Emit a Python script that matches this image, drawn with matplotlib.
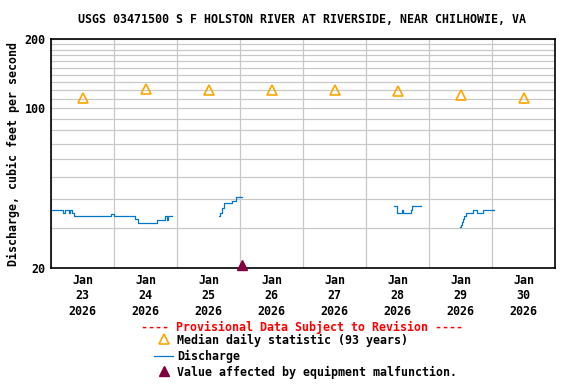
import matplotlib
matplotlib.use("Agg")
import matplotlib.pyplot as plt
import matplotlib.dates as mdates
from matplotlib.lines import Line2D
from matplotlib.ticker import FixedLocator, FixedFormatter, NullFormatter
import numpy as np
import pandas as pd

# hours after 2026-01-23 00:00 and discharge (cfs); NaN splits the record gaps
q_hours = [0, 4.46, 5.1, 6.63, 7.0, 7.89, 8.53, 22.86, 23.9, 32.0, 33.0, 40.15,
           43.4, 44.0, 44.5, 46.0,
           np.nan,
           63.9, 64.3, 64.9, 65.9, 69.0, 70.5, 72.5,
           np.nan,
           130.5, 131.6, 133.5, 133.9, 137.0, 137.4, 140.7,
           np.nan,
           155.7, 156.1, 156.5, 156.9, 157.3, 158.1, 160.8, 162.1, 164.6, 168.7]
q_values = [36, 34.8, 36, 34.8, 36, 34.8, 34, 34.6, 34, 33, 31.6, 32.4,
            34, 32.4, 34, 34,
            np.nan,
            33.9, 34.8, 36.6, 38.5, 39.5, 41, 41,
            np.nan,
            37.4, 34.8, 36, 34.8, 36, 37.4, 37.4,
            np.nan,
            30.2, 31, 32, 33, 34, 34.8, 36, 34.8, 36, 36]

median_days = ["2026-01-23", "2026-01-24", "2026-01-25", "2026-01-26",
               "2026-01-27", "2026-01-28", "2026-01-29", "2026-01-30"]
median_values = [111, 121, 120, 120, 119.5, 118.5, 114, 111]

malfunction_time = "2026-01-26 00:35"
malfunction_value = 20.6

TITLE = "USGS 03471500 S F HOLSTON RIVER AT RIVERSIDE, NEAR CHILHOWIE, VA"
FONT = "DejaVu Sans Mono"
FS = 8.4
BLUE = "#0077cc"
ORANGE = "#ffa500"
MAROON = "#800040"

start = pd.Timestamp("2026-01-23")
q_time = pd.to_datetime([start + pd.Timedelta(hours=h) if not np.isnan(h) else pd.NaT
                         for h in q_hours])

fig = plt.figure(figsize=(5.76, 3.84), dpi=100)
ax = fig.add_axes([0.089, 0.301, 0.875, 0.597])

ax.plot(q_time, q_values, color=BLUE, lw=0.9, drawstyle="steps-post")
med_t = pd.to_datetime(median_days) + pd.Timedelta(hours=12)
ax.plot(med_t, median_values, ls="none", marker="^", ms=7.5, mfc="none",
        mec=ORANGE, mew=1.2)
ax.plot(pd.to_datetime([malfunction_time]), [malfunction_value], ls="none",
        marker="^", ms=7, color=MAROON, clip_on=False, zorder=5)

ax.set_yscale("log")
ax.set_ylim(20, 200)
ax.set_xlim(start, start + pd.Timedelta(days=8))

ax.yaxis.set_major_locator(FixedLocator([20, 100, 200]))
ax.yaxis.set_minor_locator(FixedLocator(list(range(30, 200, 10))))
ax.yaxis.set_major_formatter(FixedFormatter(["20", "100", "200"]))
ax.yaxis.set_minor_formatter(NullFormatter())
ax.grid(True, which="both", axis="y", color="#c8c8c8", lw=0.9)

ax.xaxis.set_major_locator(FixedLocator(mdates.date2num(med_t)))
ax.xaxis.set_major_formatter(FixedFormatter([t.strftime("%b\n%d\n%Y") for t in med_t]))
ax.xaxis.set_minor_locator(mdates.DayLocator())
ax.grid(True, which="minor", axis="x", color="#c8c8c8", lw=0.9)

ax.tick_params(which="both", length=0, pad=4)
for lab in ax.get_xticklabels() + ax.get_yticklabels():
    lab.set_fontfamily(FONT)
    lab.set_fontweight("bold")
    lab.set_fontsize(FS)
    lab.set_linespacing(1.25)
for sp in ax.spines.values():
    sp.set_color("black")
    sp.set_linewidth(1.2)

ax.set_ylabel("Discharge, cubic feet per second", family=FONT, weight="bold",
              fontsize=FS, labelpad=3.5)
fig.text(0.525, 0.95, TITLE, ha="center", va="center", family=FONT,
         weight="bold", fontsize=FS)

# legend block under the plot
fig.text(0.525, 0.148, "---- Provisional Data Subject to Revision ----",
         ha="center", va="center", family=FONT, weight="bold", fontsize=FS,
         color="red")
rows = [0.113, 0.072, 0.030]
texts = ["Median daily statistic (93 years)", "Discharge",
         "Value affected by equipment malfunction."]
for y, t in zip(rows, texts):
    fig.text(0.308, y, t, ha="left", va="center", family=FONT, weight="bold",
             fontsize=FS)
fig.add_artist(Line2D([0.284], [rows[0] + 0.004], ls="none", marker="^", ms=7.5,
                      mfc="none", mec=ORANGE, mew=1.2, transform=fig.transFigure))
fig.add_artist(Line2D([0.268, 0.300], [rows[1], rows[1]], color=BLUE,
                      lw=0.9, transform=fig.transFigure))
fig.add_artist(Line2D([0.284], [rows[2] + 0.004], ls="none", marker="^", ms=7,
                      color=MAROON, transform=fig.transFigure))

fig.savefig("out.png", dpi=100)
